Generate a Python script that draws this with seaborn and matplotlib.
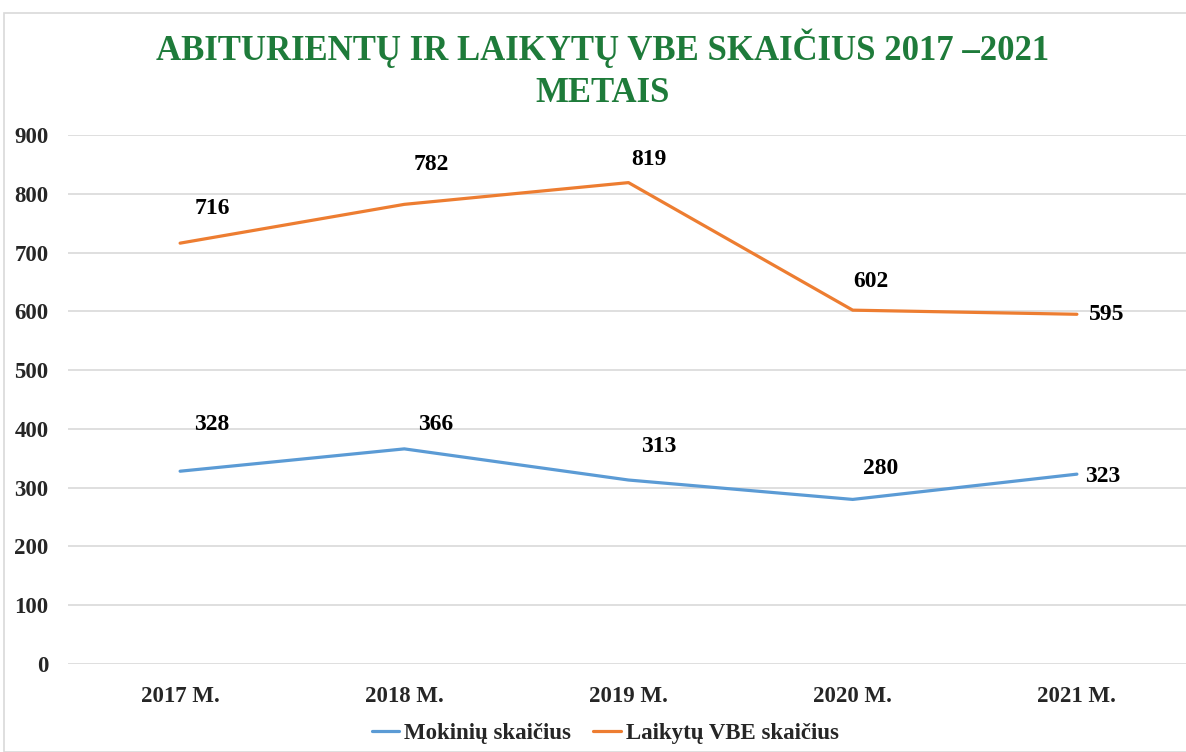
import numpy as np
import pandas as pd
import seaborn as sns
import matplotlib.pyplot as plt
from matplotlib.patches import Rectangle

years = ['2017 M.', '2018 M.', '2019 M.', '2020 M.', '2021 M.']
mokiniu = [328, 366, 313, 280, 323]
laikytu = [716, 782, 819, 602, 595]
series_names = ['Mokinių skaičius', 'Laikytų VBE skaičius']
yticks = [0, 100, 200, 300, 400, 500, 600, 700, 800, 900]

# label offsets in pixels (dx, dy)
off_mok = [(32, 47), (31, 24), (30, 34), (28, 31), (26, -2)]
off_lai = [(32, 35), (27, 40), (20, 23), (18, 29), (30, 0)]

df = pd.DataFrame({
    'year': years * 2,
    'x': list(range(len(years))) * 2,
    'value': mokiniu + laikytu,
    'series': [series_names[0]] * len(years) + [series_names[1]] * len(years),
})

sns.set_theme(style='whitegrid')
plt.rcParams['font.family'] = ['Liberation Serif', 'DejaVu Serif']
plt.rcParams['font.weight'] = 'bold'

fig = plt.figure(figsize=(11.86, 7.52), dpi=100)
ax = fig.add_axes([68 / 1186, 1 - 664 / 752, 1121 / 1186, (664 - 135) / 752])

palette = {series_names[0]: '#5B9BD5', series_names[1]: '#ED7D31'}
sns.lineplot(data=df, x='x', y='value', hue='series', palette=palette,
             linewidth=2.3, ax=ax, legend=True)

ax.set_xlim(-0.5, len(years) - 0.5)
ax.set_ylim(0, 900)
ax.set_yticks(yticks)
ax.set_yticklabels([str(t) for t in yticks], fontsize=16.5, fontweight='bold')
ax.set_xticks(range(len(years)))
ax.set_xticklabels(years, fontsize=16.5, fontweight='bold')
ax.tick_params(axis='x', pad=16, length=0)
ax.tick_params(axis='y', pad=14, length=0)
ax.grid(axis='x', visible=False)
ax.grid(axis='y', color='#D9D9D9', linewidth=1.2)
ax.set_xlabel('')
ax.set_ylabel('')
for s in ax.spines.values():
    s.set_visible(False)
ax.set_facecolor('white')

for vals, offs in ((mokiniu, off_mok), (laikytu, off_lai)):
    for i, (v, (dx, dy)) in enumerate(zip(vals, offs)):
        ax.annotate(str(v), xy=(i, v), xytext=(dx * 0.72, dy * 0.72),
                    textcoords='offset points', ha='center', va='center',
                    fontsize=17, fontweight='bold', color='black')

handles, labels = ax.get_legend_handles_labels()
ax.legend(handles, labels, loc='center', bbox_to_anchor=(605 / 1186, 1 - 733 / 752),
          bbox_transform=fig.transFigure, ncol=2, frameon=False,
          handlelength=1.2, handletextpad=0.2, columnspacing=1.0,
          prop={'size': 16.5, 'weight': 'bold'})

fig.text(603 / 1186, 1 - 48 / 752, 'ABITURIENTŲ IR LAIKYTŲ VBE SKAIČIUS 2017 –2021',
         ha='center', va='center', fontsize=25, fontweight='bold', color='#1E7B3A')
fig.text(603 / 1186, 1 - 93 / 752, 'METAIS',
         ha='center', va='center', fontsize=25, fontweight='bold', color='#1E7B3A')

fig.patches.append(Rectangle((4 / 1186, 0), 1.2, 1 - 13 / 752, transform=fig.transFigure,
                             fill=False, edgecolor='#D9D9D9', linewidth=1.2))

fig.savefig('out.png', dpi=100)
